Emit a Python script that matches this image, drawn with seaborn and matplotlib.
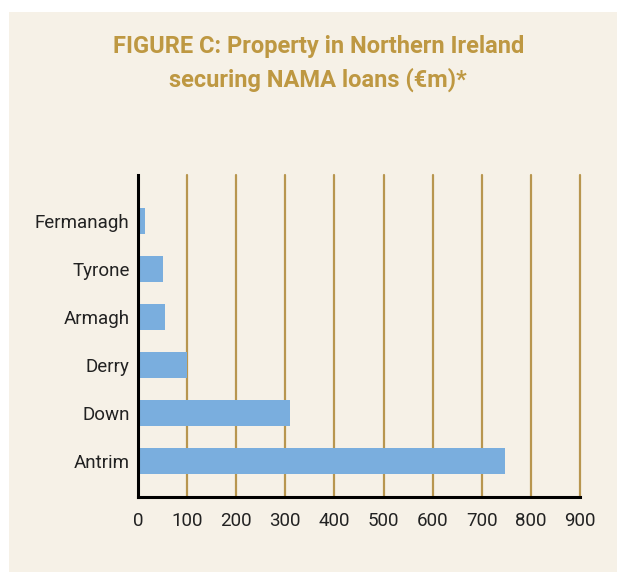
import matplotlib
matplotlib.use("Agg")
import matplotlib.pyplot as plt
import seaborn as sns
import pandas as pd
from matplotlib.patches import Rectangle

counties = ["Fermanagh", "Tyrone", "Armagh", "Derry", "Down", "Antrim"]
values = [14, 51, 55, 100, 310, 747]
xticks = [0, 100, 200, 300, 400, 500, 600, 700, 800, 900]

sns.set_theme(style="white")
plt.rcParams['font.family'] = ['Roboto', 'DejaVu Sans']

BG = "#f6f1e7"
GOLD = "#b8964f"
TITLE = "#be9842"
BAR = "#7aaede"

fig = plt.figure(figsize=(6.17, 5.72), dpi=100, facecolor="white")
bgrect = Rectangle((9/617, 0), 1, (572-12)/572, transform=fig.transFigure,
                   facecolor=BG, edgecolor="none", zorder=-10)
fig.add_artist(bgrect)

ax = fig.add_axes([138/617, 1-497/572, (580-138)/617, (497-175)/572])
ax.set_zorder(5)
ax.patch.set_alpha(0)

df = pd.DataFrame({"county": counties, "value": values})
sns.barplot(data=df, x="value", y="county", orient="h", color=BAR, saturation=1,
            width=0.54, ax=ax, zorder=3, linewidth=0)

ax.set_xlim(0, 900)
ax.set_ylim(5.75, -0.96)
ax.set_xticks(xticks)
ax.set_xticklabels([str(t) for t in xticks], fontsize=13.5, color="#222222")
ax.tick_params(axis="y", labelsize=13.5, colors="#222222", length=0, pad=6)
ax.tick_params(axis="x", length=0, pad=11)
for t in xticks[1:]:
    ax.axvline(t, color=GOLD, lw=1.6, zorder=1, clip_on=False)
ax.set_xlabel("")
ax.set_ylabel("")
for s in ["top", "right"]:
    ax.spines[s].set_visible(False)
for s in ["left", "bottom"]:
    ax.spines[s].set_color("black")
    ax.spines[s].set_linewidth(2.2)
    ax.spines[s].set_zorder(5)

fig.text(0.516, 1-47/572, "FIGURE C: Property in Northern Ireland", ha="center", va="center",
         fontsize=17, fontweight="bold", color=TITLE)
fig.text(0.516, 1-80/572, "securing NAMA loans (€m)*", ha="center", va="center",
         fontsize=17, fontweight="bold", color=TITLE)

fig.savefig("out.png", dpi=100, facecolor="white")
